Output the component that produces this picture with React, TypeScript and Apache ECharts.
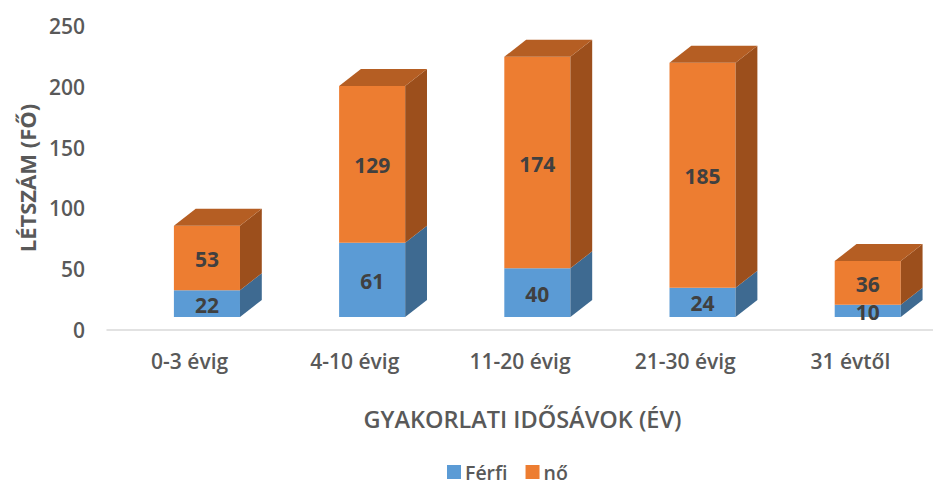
import React, { useEffect, useRef } from "react";
import * as echarts from "echarts";

const categories = ["0-3 évig", "4-10 évig", "11-20 évig", "21-30 évig", "31 évtől"];
const ferfi = [22, 61, 40, 24, 10];
const no = [53, 129, 174, 185, 36];
const yTicks = { min: 0, max: 250, interval: 50 };

const FONT = "'Open Sans', 'Noto Sans', sans-serif";

type Shade = { front: string; side: string; top: string };
const blueShade: Shade = { front: "#5B9BD5", side: "#3E6A91", top: "#4A82B5" };
const orangeShade: Shade = { front: "#ED7D31", side: "#9C4F1C", top: "#B55E23" };

function makeRender(shade: Shade, drawTop: boolean) {
  return (params: any, api: any) => {
    const i = api.value(0);
    const base = api.value(1);
    const top = api.value(2);
    const raw = api.value(3);
    const p0 = api.coord([i, base]);
    const p1 = api.coord([i, top]);
    const bandW = api.size([1, 0])[0];
    const w = bandW * 0.4;
    const cx = p0[0] + bandW * 0.105;
    const x0 = cx - w / 2;
    const x1 = cx + w / 2;
    const shift = 13;
    const yb = p0[1] - shift;
    const yt = p1[1] - shift;
    const dx = bandW * 0.132;
    const dy = 17;
    const children: any[] = [
      {
        type: "rect",
        shape: { x: x0, y: yt, width: w, height: yb - yt },
        style: { fill: shade.front },
      },
      {
        type: "polygon",
        shape: {
          points: [
            [x1, yb],
            [x1, yt],
            [x1 + dx, yt - dy],
            [x1 + dx, yb - dy],
          ],
        },
        style: { fill: shade.side },
      },
    ];
    if (drawTop) {
      children.push({
        type: "polygon",
        shape: {
          points: [
            [x0, yt],
            [x1, yt],
            [x1 + dx, yt - dy],
            [x0 + dx, yt - dy],
          ],
        },
        style: { fill: shade.top },
      });
    }
    children.push({
      type: "text",
      style: {
        text: String(raw),
        x: cx,
        y: (yt + yb) / 2 + 1,
        align: "center",
        verticalAlign: "middle",
        fill: "#404040",
        font: `bold 21px ${FONT}`,
      },
    });
    return { type: "group", children };
  };
}

export default function App() {
  const ref = useRef<HTMLDivElement>(null);
  useEffect(() => {
    if (!ref.current) return;
    document.body.style.margin = "0";
    const chart = echarts.init(ref.current, null, { renderer: "svg" });
    const ferfiData = categories.map((_, i) => [i, 0, ferfi[i], ferfi[i]]);
    const noData = categories.map((_, i) => [i, ferfi[i], ferfi[i] + no[i], no[i]]);
    chart.setOption({
      animation: false,
      backgroundColor: "#ffffff",
      grid: { left: 107, right: -9.5, top: 26, bottom: 156, containLabel: false },
      legend: {
        data: ["Férfi", "nő"],
        top: 462,
        left: 447,
        icon: "rect",
        itemWidth: 14,
        itemHeight: 14,
        itemGap: 18,
        padding: 0,
        textStyle: {
          color: "#595959",
          fontSize: 19.5,
          lineHeight: 20,
          fontWeight: 600,
          fontFamily: FONT,
          padding: [0, 0, 0, -1],
        },
      },
      xAxis: {
        type: "category",
        data: categories,
        axisTick: { show: false },
        axisLine: { lineStyle: { color: "#D9D9D9", width: 1.5 } },
        axisLabel: { color: "#595959", fontSize: 21, fontWeight: 600, fontFamily: FONT, margin: 20 },
        name: "GYAKORLATI IDŐSÁVOK (ÉV)",
        nameLocation: "middle",
        nameGap: 77,
        nameTextStyle: {
          color: "#595959",
          fontSize: 23.5,
          fontWeight: 600,
          fontFamily: FONT,
          padding: [0, 0, 0, 5],
        },
      },
      yAxis: {
        type: "value",
        min: yTicks.min,
        max: yTicks.max,
        interval: yTicks.interval,
        splitLine: { show: false },
        axisLine: { show: false },
        axisTick: { show: false },
        axisLabel: { color: "#595959", fontSize: 21, fontWeight: 600, fontFamily: FONT, margin: 22 },
        name: "LÉTSZÁM (FŐ)",
        nameLocation: "middle",
        nameRotate: 90,
        nameGap: 69,
        nameTextStyle: { color: "#595959", fontSize: 22, fontWeight: 700, fontFamily: FONT },
      },
      series: [
        {
          name: "Férfi",
          type: "custom",
          itemStyle: { color: blueShade.front },
          encode: { x: 0, y: [1, 2] },
          data: ferfiData,
          renderItem: makeRender(blueShade, false),
          clip: false,
        },
        {
          name: "nő",
          type: "custom",
          itemStyle: { color: orangeShade.front },
          encode: { x: 0, y: [1, 2] },
          data: noData,
          renderItem: makeRender(orangeShade, true),
          clip: false,
        },
      ],
    });
    return () => chart.dispose();
  }, []);
  return <div ref={ref} style={{ width: 933, height: 486 }} />;
}
